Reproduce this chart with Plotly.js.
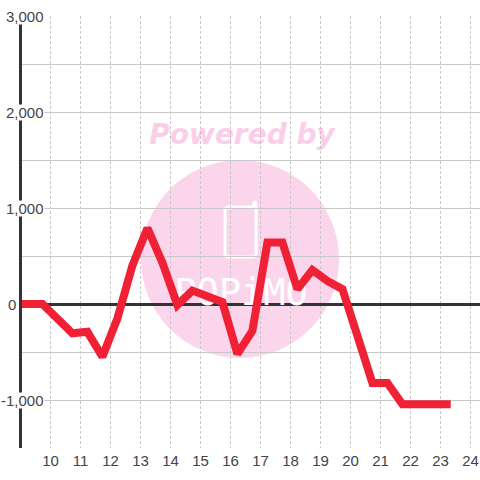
<!DOCTYPE html>
<html><head><meta charset="utf-8">
<script src="https://cdn.plot.ly/plotly-3.0.1.min.js"></script>
<style>html,body{margin:0;padding:0;background:#fff}</style></head>
<body><div id="c" style="width:480px;height:480px"></div>
<script>
const hours = [8.9,9.73,10.73,11.23,11.73,12.23,12.73,13.23,13.73,14.23,14.73,15.23,15.73,16.23,16.73,17.23,17.73,18.23,18.73,19.23,19.73,20.23,20.73,21.23,21.73,22.23,22.73,23.23,23.34];
const values = [0,0,-305,-290,-550,-150,400,790,430,-10,140,90,20,-520,-280,640,640,155,355,240,155,-330,-823,-823,-1045,-1045,-1045,-1045,-1045];
const yTicks = [3000,2000,1000,0,-1000];
const yTickLabels = ['3,000','2,000','1,000','0','-1,000'];
const yLabelRight = [45,45,45,17,45];
const xTicks = [10,11,12,13,14,15,16,17,18,19,20,21,22,23,24];
const LEFT=22;
const xr=[10+(LEFT-50.5)/30,10+(480-50.5)/30];
const annotations = yTicks.map((v,i)=>({
  xref:'paper',yref:'y',x:0,y:v,xanchor:'right',yanchor:'middle',xshift:yLabelRight[i]-LEFT,
  text:yTickLabels[i],showarrow:false,font:{family:'Liberation Sans',size:15,color:'#444'},
  bgcolor:'#fff',borderpad:0,height:15,valign:'middle'
}));
const px=x=>(x-LEFT)/458, py=y=>(448-y)/432;
annotations.unshift({xref:'paper',yref:'paper',x:px(242),y:py(134),xanchor:'center',yanchor:'middle',text:'<b><i>Powered by</i></b>',showarrow:false,
  font:{family:'DejaVu Sans',size:28,color:'rgba(246,148,208,0.4)',shadow:'1px 0 0 rgba(246,148,208,0.3)'}});
Plotly.newPlot('c',[
 {x:[16.35],y:[83],mode:'text',text:['POPiMO'],textposition:'middle center',cliponaxis:false,hoverinfo:'skip',
  textfont:{family:'DejaVu Sans Mono',size:37,color:'#fff'}},
 {x:hours,y:values,mode:'lines',cliponaxis:false,hoverinfo:'skip',
  line:{color:'#f02035',width:8,shape:'linear'}}],{
  width:480,height:480,margin:{l:LEFT,r:0,t:16,b:32},showlegend:false,paper_bgcolor:'#fff',plot_bgcolor:'rgba(0,0,0,0)',
  xaxis:{range:xr,tickmode:'array',tickvals:xTicks,ticktext:xTicks.map(String),showline:false,zeroline:false,
    showgrid:true,gridcolor:'#c8c8c8',griddash:'3px,2px',gridwidth:1,ticks:'',ticklen:0,ticklabelstandoff:2,
    tickfont:{family:'Liberation Sans',size:15,color:'#444'}},
  yaxis:{range:[-1500,3000],tickmode:'array',tickvals:[3000,2500,2000,1500,1000,500,0,-500,-1000,-1500],showticklabels:false,
    showgrid:true,gridcolor:'#c8c8c8',gridwidth:1,zeroline:true,zerolinecolor:'#333',zerolinewidth:3,layer:'below traces',
    showline:true,linecolor:'#333',linewidth:3,ticks:''},
  shapes:[
    {type:'circle',xref:'paper',yref:'paper',x0:px(141),x1:px(339),y0:py(358),y1:py(160),fillcolor:'#fbd5ec',line:{width:0},layer:'below'},
    {type:'path',xref:'paper',yref:'paper',layer:'below',line:{color:'#fff',width:3},fillcolor:'rgba(0,0,0,0)',
     path:`M${px(253)},${py(207)} L${px(229)},${py(207)} Q${px(225)},${py(207)} ${px(225)},${py(211)} L${px(225)},${py(253)} Q${px(225)},${py(257)} ${px(229)},${py(257)} L${px(252)},${py(257)} Q${px(256)},${py(257)} ${px(256)},${py(253)} L${px(256)},${py(203)} Q${px(255)},${py(201)} ${px(254)},${py(203)} L${px(253)},${py(207)}`}
  ],
  annotations
},{displayModeBar:false,staticPlot:true});
</script></body></html>
